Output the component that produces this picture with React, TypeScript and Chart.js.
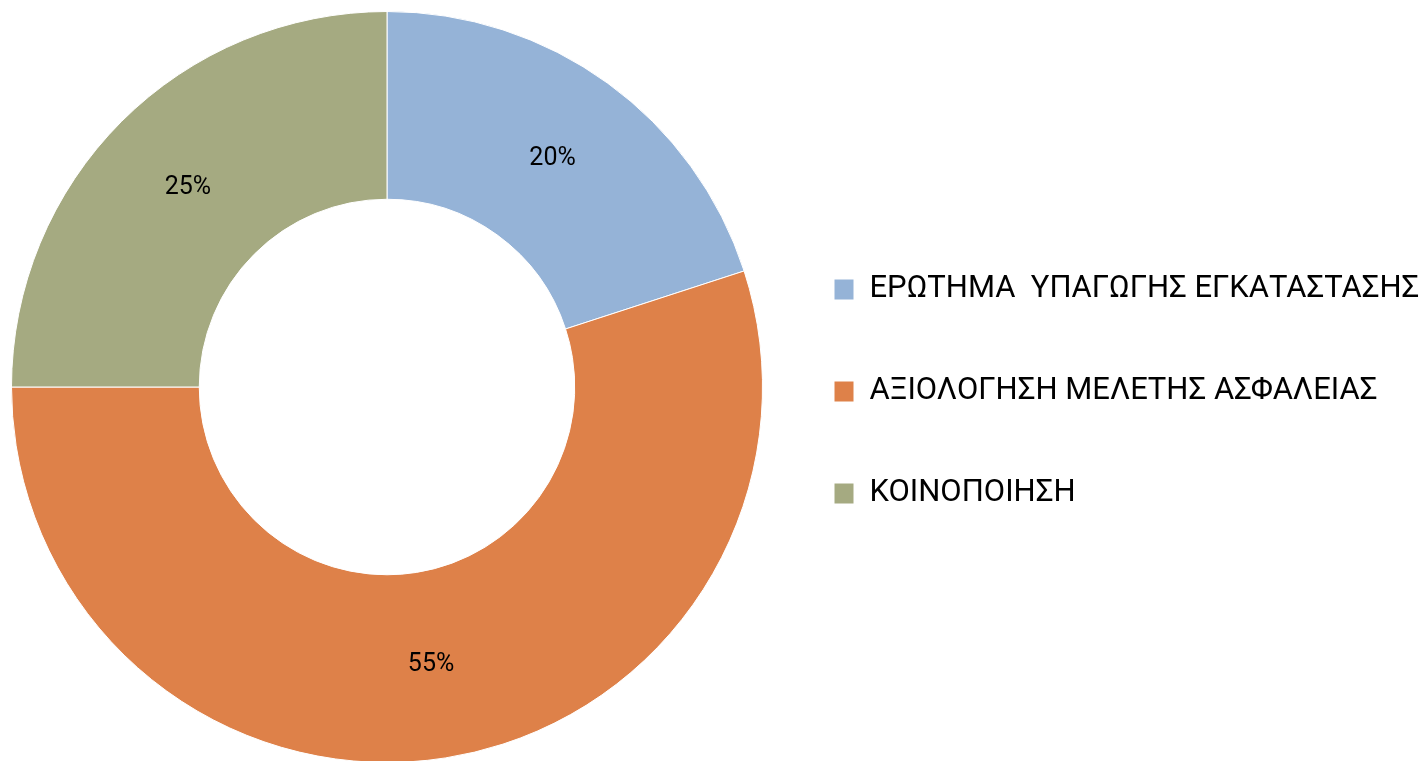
import React, { useEffect, useRef } from "react";
import { Chart, registerables } from "chart.js";

Chart.register(...registerables);

const categories = [
  "ΕΡΩΤΗΜΑ  ΥΠΑΓΩΓΗΣ ΕΓΚΑΤΑΣΤΑΣΗΣ",
  "ΑΞΙΟΛΟΓΗΣΗ ΜΕΛΕΤΗΣ ΑΣΦΑΛΕΙΑΣ",
  "ΚΟΙΝΟΠΟΙΗΣΗ",
];
const values = [20, 55, 25];
const percentLabels = ["20%", "55%", "25%"];
const colors = ["#95B3D7", "#DE8149", "#A5AA81"];

const FONT = "Roboto, 'Open Sans', sans-serif";
const LEGEND_WIDTH = 664;

export default function App() {
  const ref = useRef<HTMLCanvasElement | null>(null);

  useEffect(() => {
    if (!ref.current) return;
    const labelPlugin = {
      id: "pctLabels",
      afterDatasetsDraw(chart: any) {
        const ctx = chart.ctx;
        const meta = chart.getDatasetMeta(0);
        ctx.save();
        ctx.fillStyle = "#000000";
        ctx.font = `25px ${FONT}`;
        ctx.textAlign = "center";
        ctx.textBaseline = "middle";
        meta.data.forEach((arc: any, i: number) => {
          const p = arc.tooltipPosition();
          ctx.fillText(percentLabels[i], p.x, p.y);
        });
        ctx.restore();
      },
    };
    const legendWidthPlugin = {
      id: "legendWidth",
      beforeLayout(chart: any) {
        const lg = chart.legend;
        if (lg && !lg.__patched) {
          const orig = lg.fit;
          lg.fit = function () {
            orig.call(this);
            this.width = LEGEND_WIDTH;
          };
          lg.__patched = true;
        }
      },
    };
    const chart = new Chart(ref.current, {
      type: "doughnut",
      data: {
        labels: categories,
        datasets: [
          {
            data: values,
            backgroundColor: colors,
            borderColor: "#FFFFFF",
            borderWidth: 1,
            hoverOffset: 0,
          },
        ],
      },
      options: {
        responsive: false,
        animation: false,
        devicePixelRatio: 1,
        cutout: "50%",
        layout: { padding: { top: 11, left: 11, bottom: 12, right: 0 } },
        plugins: {
          tooltip: { enabled: false },
          legend: {
            position: "right",
            align: "center",
            title: { display: true, text: "", padding: 0, font: { size: 9, lineHeight: 1 } },
            labels: {
              boxWidth: 20,
              boxHeight: 21,
              padding: 71,
              color: "#000000",
              font: { family: FONT, size: 31 },
            },
          },
        },
      },
      plugins: [labelPlugin, legendWidthPlugin],
    });
    return () => chart.destroy();
  }, []);

  return (
    <div
      style={{
        position: "fixed",
        left: 0,
        top: 0,
        width: 1427,
        height: 761,
        overflow: "hidden",
        background: "#FFFFFF",
      }}
    >
      <canvas ref={ref} width={1427} height={775} style={{ display: "block" }} />
    </div>
  );
}
